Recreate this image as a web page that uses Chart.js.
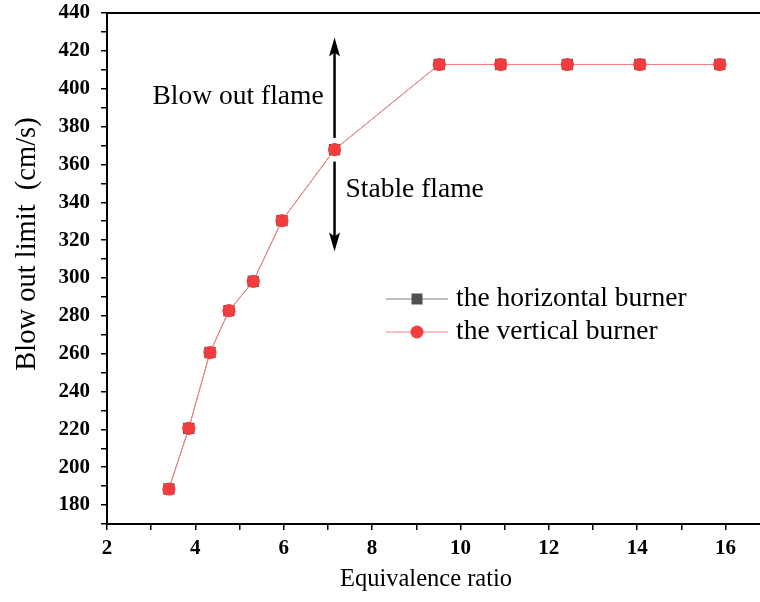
<!DOCTYPE html>
<html>
<head>
<meta charset="utf-8">
<script src="https://cdn.jsdelivr.net/npm/chart.js@4.4.1/dist/chart.umd.min.js"></script>
<style>
  html, body { margin: 0; padding: 0; background: #fff; overflow: hidden; }
  #wrap { width: 760px; height: 602px; }
</style>
</head>
<body>
<div id="wrap"><canvas id="chart" width="760" height="602"></canvas></div>
<script>
/* Blow out limit vs equivalence ratio */

const equivalenceRatio = [3.40, 3.85, 4.33, 4.76, 5.31, 5.96, 7.15, 9.52, 10.91, 12.42, 14.06, 15.87];
const horizontalBurner = [188.5, 220.5, 260.6, 282.7, 298.2, 330.3, 367.8, 412.8, 412.8, 412.8, 412.8, 412.8];
const verticalBurner   = [188.5, 220.5, 260.6, 282.7, 298.2, 330.3, 367.8, 412.8, 412.8, 412.8, 412.8, 412.8];
const seriesLabels = ['the horizontal burner', 'the vertical burner'];
const xTitle = 'Equivalence ratio';
const yTitle = 'Blow out limit  (cm/s)';

// annotation arrows / labels, in data units
const arrowX = 7.15;
const arrowUp = [374, 427];     // from, tip
const arrowDown = [361.5, 314];
const noteTexts = ['Blow out flame', 'Stable flame'];
const noteX = [3.03, 7.40];
const noteY = [395.6, 346.5];

const SERIF = '"Liberation Serif", "Times New Roman", serif';
const RED = 'rgb(243,60,62)';
const RED_LINE = 'rgb(255,130,130)';
const GREY = 'rgb(80,80,80)';
const GREY_LINE = 'rgb(130,130,130)';

const toXY = ys => equivalenceRatio.map((x, i) => ({ x, y: ys[i] }));
const noPad = s => { s.paddingTop = 0; s.paddingBottom = 0; s.paddingLeft = 0; s.paddingRight = 0; };

const annotations = {
  id: 'annotations',
  afterDatasetsDraw(chart) {
    const { ctx, scales: { x, y } } = chart;
    const ax = x.getPixelForValue(arrowX);
    const drawArrow = (from, tip) => {
      const y0 = y.getPixelForValue(from), y1 = y.getPixelForValue(tip);
      const dir = Math.sign(y1 - y0);
      ctx.save();
      ctx.strokeStyle = '#000'; ctx.fillStyle = '#000'; ctx.lineWidth = 2.5;
      ctx.beginPath(); ctx.moveTo(ax, y0); ctx.lineTo(ax, y1 - dir * 14); ctx.stroke();
      ctx.beginPath();
      ctx.moveTo(ax, y1);
      ctx.lineTo(ax - 5.5, y1 - dir * 19);
      ctx.lineTo(ax, y1 - dir * 15);
      ctx.lineTo(ax + 5.5, y1 - dir * 19);
      ctx.closePath(); ctx.fill();
      ctx.restore();
    };
    drawArrow(arrowUp[0], arrowUp[1]);
    drawArrow(arrowDown[0], arrowDown[1]);

    ctx.save();
    ctx.font = '27.5px ' + SERIF;
    ctx.fillStyle = '#000';
    ctx.textBaseline = 'middle';
    noteTexts.forEach((t, i) => ctx.fillText(t, x.getPixelForValue(noteX[i]), y.getPixelForValue(noteY[i])));
    ctx.restore();
  }
};

// axis titles sit slightly off-centre in the original figure
const axisTitles = {
  id: 'axisTitles',
  afterDraw(chart) {
    const { ctx, chartArea } = chart;
    ctx.save();
    ctx.fillStyle = '#000';
    ctx.textAlign = 'center';
    ctx.textBaseline = 'middle';
    ctx.font = '24.5px ' + SERIF;
    ctx.fillText(xTitle, chartArea.left + 319, chartArea.bottom + 56);
    ctx.translate(28, chartArea.top + 231);
    ctx.rotate(-Math.PI / 2);
    ctx.font = '28.5px ' + SERIF;
    ctx.fillText(yTitle, 0, 0);
    ctx.restore();
  }
};

const innerLegend = {
  id: 'innerLegend',
  afterDraw(chart) {
    const { ctx, chartArea } = chart;
    const x0 = chartArea.left + 279, x1 = chartArea.left + 341, mx = chartArea.left + 310;
    const tx = chartArea.left + 349;
    const rows = [chartArea.top + 286, chartArea.top + 319];
    chart.data.datasets.forEach((ds, i) => {
      const ry = rows[i];
      ctx.save();
      ctx.strokeStyle = ds.borderColor; ctx.lineWidth = 1;
      ctx.beginPath(); ctx.moveTo(x0, ry); ctx.lineTo(x1, ry); ctx.stroke();
      ctx.fillStyle = ds.pointBackgroundColor;
      ctx.beginPath();
      if (ds.pointStyle === 'rect') ctx.rect(mx - 5.5, ry - 5.5, 11, 11);
      else ctx.arc(mx, ry, 6.5, 0, Math.PI * 2);
      ctx.fill();
      ctx.fillStyle = '#000';
      ctx.font = '27.5px ' + SERIF;
      ctx.textBaseline = 'middle';
      ctx.fillText(ds.label, tx, ry);
      ctx.restore();
    });
  }
};

new Chart(document.getElementById('chart'), {
  type: 'line',
  data: {
    datasets: [
      { label: seriesLabels[0], data: toXY(horizontalBurner), borderColor: GREY_LINE, borderWidth: 1,
        pointStyle: 'rect', pointRadius: 8, pointBackgroundColor: GREY, pointBorderWidth: 0, order: 1 },
      { label: seriesLabels[1], data: toXY(verticalBurner), borderColor: RED_LINE, borderWidth: 1,
        pointStyle: 'circle', pointRadius: 6.6, pointBackgroundColor: RED, pointBorderWidth: 0, order: 0 },
    ],
  },
  options: {
    responsive: false, animation: false, devicePixelRatio: 1,
    layout: { padding: 0, autoPadding: false },
    plugins: { legend: { display: false }, tooltip: { enabled: false } },
    scales: {
      x: {
        type: 'linear', position: 'bottom', min: 2, max: 16.78,
        afterFit: s => { s.height = 78; noPad(s); },
        border: { color: '#000', width: 2 },
        grid: { drawOnChartArea: false, color: '#000', tickLength: 6, lineWidth: 1.5 },
        ticks: { stepSize: 1, includeBounds: false, autoSkip: false, maxRotation: 0, padding: 6, color: '#000',
          font: { family: SERIF, size: 21, weight: 'bold' },
          callback: v => (v % 2 === 0 ? v : '') },
      },
      xTop: {
        type: 'linear', position: 'top', min: 2, max: 16.78,
        afterFit: s => { s.height = 13; noPad(s); },
        border: { color: '#000', width: 2 },
        grid: { drawOnChartArea: false, drawTicks: false },
        ticks: { display: false },
      },
      y: {
        type: 'linear', min: 170, max: 440,
        afterFit: s => { s.width = 107; noPad(s); },
        border: { color: '#000', width: 2 },
        grid: { drawOnChartArea: false, color: '#000', tickLength: 6, lineWidth: 1.5 },
        ticks: { stepSize: 10, autoSkip: false, padding: 11, color: '#000',
          font: { family: SERIF, size: 21, weight: 'bold' },
          callback: v => (v % 20 === 0 ? v : '') },
      },
    },
  },
  plugins: [annotations, axisTitles, innerLegend],
});
</script>
</body>
</html>
